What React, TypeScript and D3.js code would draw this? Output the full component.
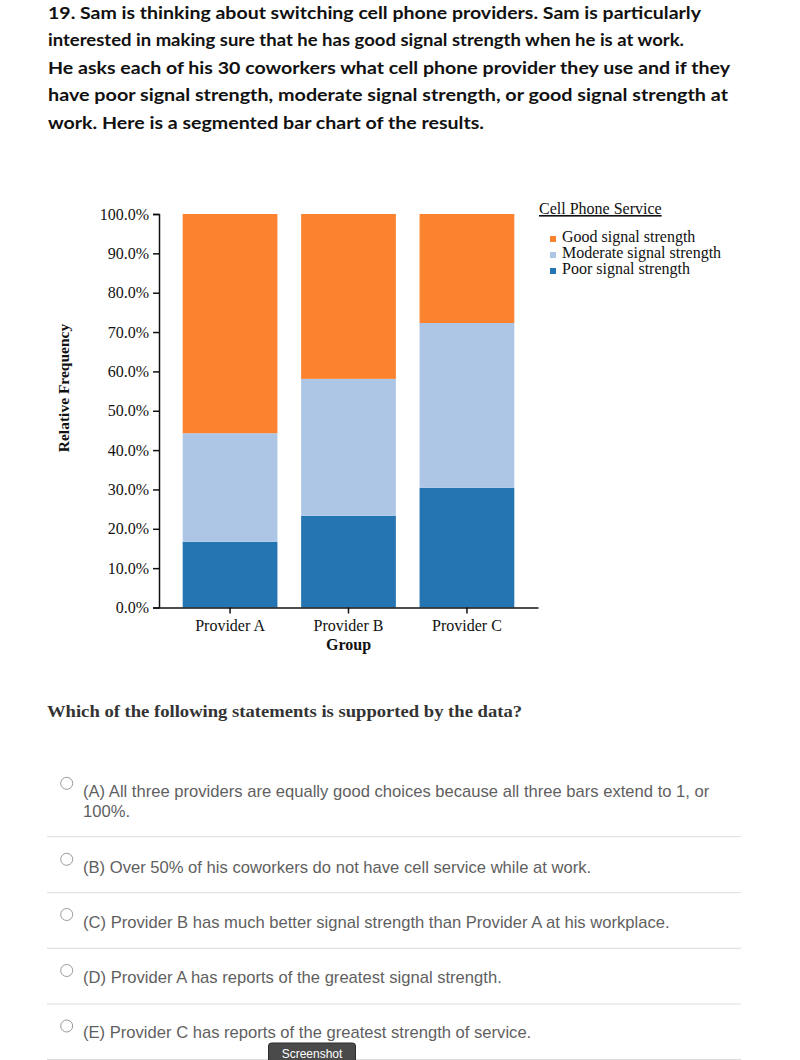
import React, { useEffect, useRef } from "react";
import * as d3 from "d3";

// ---- data ----
const providers = ["Provider A", "Provider B", "Provider C"];
const poorSignal = [16.7, 23.3, 30.4];
const moderateSignal = [27.6, 34.8, 41.9];
const goodSignal = [55.7, 41.9, 27.7];
const yTicks = [0, 10, 20, 30, 40, 50, 60, 70, 80, 90, 100];
const seriesKeys = ["poor", "moderate", "good"];
const legendLabels = ["Good signal strength", "Moderate signal strength", "Poor signal strength"];
const legendKeys = ["good", "moderate", "poor"];

const questionLines = [
  "19. Sam is thinking about switching cell phone providers. Sam is particularly",
  "interested in making sure that he has good signal strength when he is at work.",
  "He asks each of his 30 coworkers what cell phone provider they use and if they",
  "have poor signal strength, moderate signal strength, or good signal strength at",
  "work. Here is a segmented bar chart of the results.",
];
const questionWidths = [653, 636, 682, 680, 436];
const options = [
  ["(A) All three providers are equally good choices because all three bars extend to 1, or", "100%."],
  ["(B) Over 50% of his coworkers do not have cell service while at work."],
  ["(C) Provider B has much better signal strength than Provider A at his workplace."],
  ["(D) Provider A has reports of the greatest signal strength."],
  ["(E) Provider C has reports of the greatest strength of service."],
];

const colors: Record<string, string> = {
  poor: "#2475b1",
  moderate: "#aec6e6",
  good: "#fb832f",
};

const SERIF = "'Liberation Serif', 'Times New Roman', serif";
const SANS = "'Liberation Sans', Arial, sans-serif";

export default function App() {
  const xAxisRef = useRef<SVGGElement>(null);
  const yAxisRef = useRef<SVGGElement>(null);

  const x = d3.scaleBand<string>().domain(providers).range([159, 538]).paddingInner(0.2).paddingOuter(0.2);
  const y = d3.scaleLinear().domain([0, 100]).range([607.5, 214]);

  const table = providers.map((p, i) => ({
    provider: p,
    poor: poorSignal[i],
    moderate: moderateSignal[i],
    good: goodSignal[i],
  }));
  const stacked = d3.stack<any>().keys(seriesKeys)(table);

  useEffect(() => {
    const xa = d3.select(xAxisRef.current!);
    xa.call(d3.axisBottom(x).tickSize(6).tickSizeOuter(0).tickPadding(6) as any);
    xa.selectAll("text").attr("font-family", SERIF).attr("font-size", 16).attr("fill", "#111");
    xa.selectAll("path,line").attr("stroke", "#111").attr("stroke-width", 1.5);

    const ya = d3.select(yAxisRef.current!);
    ya.call(
      d3
        .axisLeft(y)
        .tickValues(yTicks)
        .tickSize(6)
        .tickPadding(4)
        .tickFormat((d: any) => (+d).toFixed(1) + "%") as any
    );
    ya.selectAll("text").attr("font-family", SERIF).attr("font-size", 16).attr("fill", "#111");
    ya.selectAll("path,line").attr("stroke", "#111").attr("stroke-width", 1.5);
  }, []);

  const optionBaselines = [796.7, 872.7, 927.8, 983.3, 1038.3];
  const radioYs = [783.3, 859.3, 914.5, 970.5, 1026];
  const separators = [836.7, 892.7, 948.3, 1004, 1059.5];

  return (
    <svg
      width={800}
      height={1060}
      style={{ position: "absolute", left: 0, top: 0, background: "#fff" }}
    >
      <rect x={0} y={0} width={800} height={1060} fill="#fff" />
      {questionLines.map((l, i) => (
        <text
          key={i}
          x={48}
          y={18.5 + i * 27.5}
          fontFamily="Lato, 'Open Sans', sans-serif"
          fontWeight={700}
          fontSize={17}
          fill="#111"
          textLength={questionWidths[i]}
          lengthAdjust="spacingAndGlyphs"
        >
          {l}
        </text>
      ))}

      {/* bars */}
      {stacked.map((s) => (
        <g key={s.key} fill={colors[s.key]}>
          {s.map((d, i) => (
            <rect
              key={i}
              x={x(providers[i])}
              width={x.bandwidth()}
              y={y(d[1])}
              height={y(d[0]) - y(d[1])}
            />
          ))}
        </g>
      ))}

      <g ref={xAxisRef} transform={`translate(0,${y(0)})`} />
      <g ref={yAxisRef} transform={`translate(159,0)`} />

      <text
        transform="translate(69,388) rotate(-90)"
        textAnchor="middle"
        fontFamily={SERIF}
        fontWeight={700}
        fontSize={15.5}
        fill="#111"
      >
        Relative Frequency
      </text>
      <text x={348.5} y={650} textAnchor="middle" fontFamily={SERIF} fontWeight={700} fontSize={16} fill="#111">
        Group
      </text>

      {/* legend */}
      <text x={539} y={214} fontFamily={SERIF} fontSize={16} fill="#111" textDecoration="underline">
        Cell Phone Service
      </text>
      {legendKeys.map((k, i) => (
        <g key={k}>
          <rect x={550} y={236 + i * 16} width={6} height={6} fill={colors[k]} />
          <text x={562} y={242 + i * 16} fontFamily={SERIF} fontSize={16} fill="#111">
            {legendLabels[i]}
          </text>
        </g>
      ))}

      <text
        x={47}
        y={717}
        fontFamily={SERIF}
        fontWeight={700}
        fontSize={17}
        fill="#333"
        textLength={475}
        lengthAdjust="spacingAndGlyphs"
      >
        Which of the following statements is supported by the data?
      </text>

      {options.map((lines, i) => (
        <g key={i}>
          <circle cx={66.7} cy={radioYs[i]} r={6} fill="#fff" stroke="#9a9a9a" strokeWidth={1} />
          {lines.map((t, j) => (
            <text
              key={j}
              x={83}
              y={optionBaselines[i] + j * 20}
              fontFamily={SANS}
              fontSize={16.6}
              fill="#5f5f5f"
            >
              {t}
            </text>
          ))}
          <line x1={47} x2={741} y1={separators[i]} y2={separators[i]} stroke="#dddddd" strokeWidth={1} />
        </g>
      ))}

      <rect x={268.5} y={1043} width={87} height={22} rx={3} fill="#4a4a4a" stroke="#2a2a2a" />
      <text x={312} y={1058} textAnchor="middle" fontFamily={SANS} fontSize={12} fill="#fff">
        Screenshot
      </text>
    </svg>
  );
}
